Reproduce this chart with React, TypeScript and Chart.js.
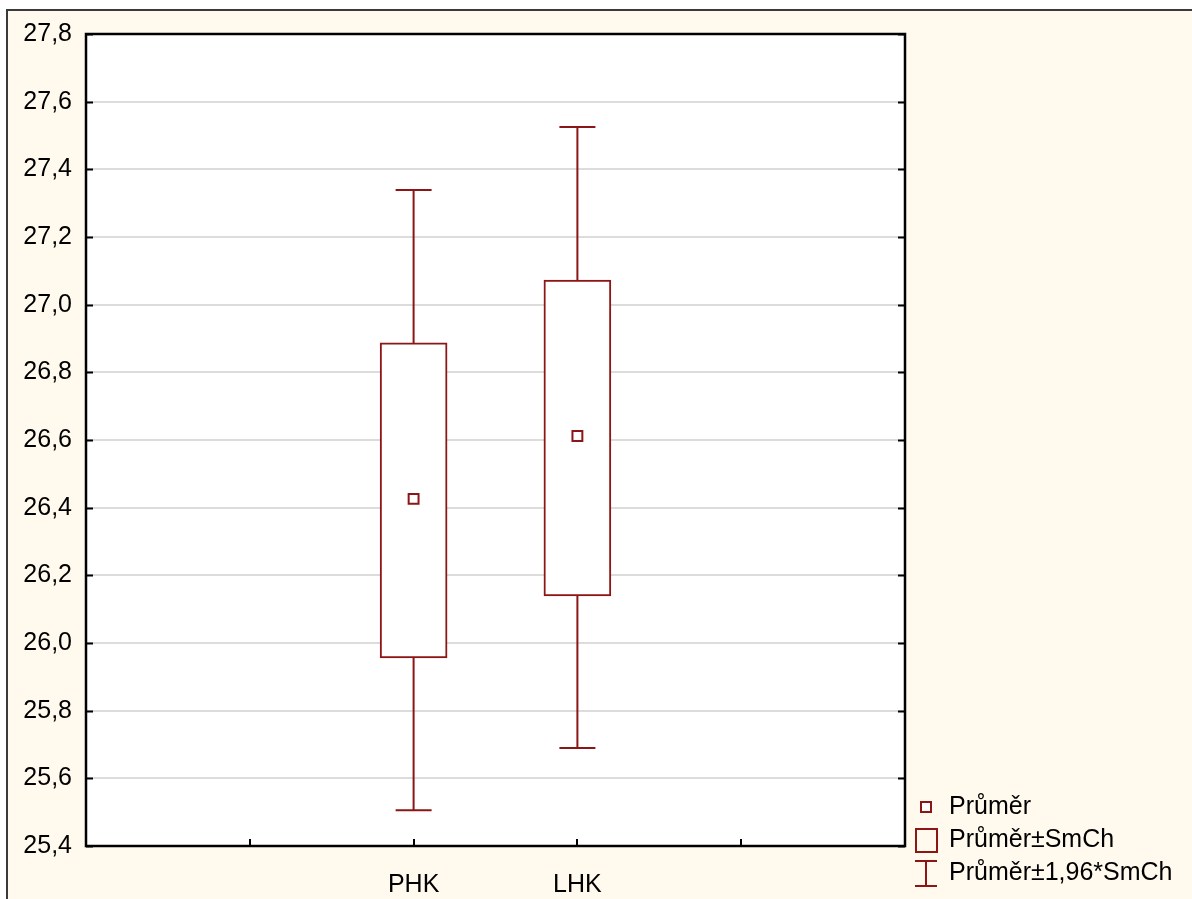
import React, { useEffect, useRef } from 'react';
import { Chart, registerables } from 'chart.js';

Chart.register(...registerables);

const xLabels = ['', '', 'PHK', 'LHK', '', ''];
const categories = ['PHK', 'LHK'];
const means = [26.426, 26.612];
const seLow = [25.956, 26.139];
const seHigh = [26.887, 27.073];
const ciLow = [25.506, 25.69];
const ciHigh = [27.339, 27.525];
const legendLabels = ['Průměr', 'Průměr±SmCh', 'Průměr±1,96*SmCh'];
const yMin = 25.4;
const yMax = 27.8;
const yStep = 0.2;

const RED = '#8c1515';
const BEIGE = '#fff9ee';
const FONT = 'Arial, "Liberation Sans", sans-serif';

const idxOf = (l: string) => categories.indexOf(l);

const decorPlugin = {
  id: 'decor',
  beforeDraw(chart: any) {
    const { ctx, width, height, chartArea: a } = chart;
    ctx.save();
    ctx.fillStyle = '#ffffff';
    ctx.fillRect(0, 0, width, height);
    ctx.fillStyle = BEIGE;
    ctx.fillRect(7, 10, width - 7, height - 10);
    ctx.strokeStyle = '#3a3a3a';
    ctx.lineWidth = 2;
    ctx.beginPath();
    ctx.moveTo(7, height);
    ctx.lineTo(7, 10);
    ctx.lineTo(width, 10);
    ctx.stroke();
    ctx.fillStyle = '#ffffff';
    ctx.fillRect(a.left, a.top, a.right - a.left, a.bottom - a.top);
    ctx.restore();
  },
  beforeDatasetsDraw(chart: any) {
    const { ctx, scales } = chart;
    const xs = scales.x;
    const ys = scales.y;
    ctx.save();
    ctx.strokeStyle = RED;
    ctx.lineWidth = 2;
    xLabels.forEach((l, i) => {
      const k = idxOf(l);
      if (k < 0) return;
      const x = xs.getPixelForValue(i);
      const yT = ys.getPixelForValue(ciHigh[k]);
      const yB = ys.getPixelForValue(ciLow[k]);
      const cap = 18;
      ctx.beginPath();
      ctx.moveTo(x, yT);
      ctx.lineTo(x, yB);
      ctx.moveTo(x - cap, yT);
      ctx.lineTo(x + cap, yT);
      ctx.moveTo(x - cap, yB);
      ctx.lineTo(x + cap, yB);
      ctx.stroke();
    });
    ctx.restore();
  },
  afterDatasetsDraw(chart: any) {
    const { ctx, chartArea: a, scales } = chart;
    const xs = scales.x;
    const ys = scales.y;
    ctx.save();
    ctx.strokeStyle = '#000000';
    ctx.lineWidth = 2;
    ctx.beginPath();
    ys.ticks.forEach((t: any) => {
      const y = Math.round(ys.getPixelForValue(t.value)) + 0.5;
      ctx.moveTo(a.left, y);
      ctx.lineTo(a.left + 7, y);
      ctx.moveTo(a.right, y);
      ctx.lineTo(a.right - 7, y);
    });
    for (let i = 1; i < xLabels.length - 1; i++) {
      const x = Math.round(xs.getPixelForValue(i));
      ctx.moveTo(x, a.bottom);
      ctx.lineTo(x, a.bottom - 7);
    }
    ctx.stroke();
    ctx.lineWidth = 2.5;
    ctx.strokeRect(a.left, a.top, a.right - a.left, a.bottom - a.top);
    ctx.restore();
  },
  afterDraw(chart: any) {
    const { ctx, chartArea: a } = chart;
    ctx.save();
    const sx = a.right + 21;
    const tx = a.right + 44;
    const rows = [807, 840, 873];
    ctx.strokeStyle = RED;
    ctx.fillStyle = '#ffffff';
    ctx.lineWidth = 2;
    ctx.fillRect(sx - 5, rows[0] - 5, 10, 10);
    ctx.strokeRect(sx - 5, rows[0] - 5, 10, 10);
    ctx.strokeRect(sx - 10, rows[1] - 11, 21, 23);
    ctx.beginPath();
    ctx.moveTo(sx - 11, rows[2] - 12);
    ctx.lineTo(sx + 11, rows[2] - 12);
    ctx.moveTo(sx, rows[2] - 12);
    ctx.lineTo(sx, rows[2] + 13);
    ctx.moveTo(sx - 11, rows[2] + 13);
    ctx.lineTo(sx + 11, rows[2] + 13);
    ctx.stroke();
    ctx.fillStyle = '#000000';
    ctx.font = `25px ${FONT}`;
    ctx.textBaseline = 'middle';
    ctx.textAlign = 'left';
    legendLabels.forEach((t, i) => ctx.fillText(t, tx, rows[i]));
    ctx.restore();
  },
};

export default function App() {
  const ref = useRef<HTMLCanvasElement>(null);
  useEffect(() => {
    if (!ref.current) return;
    const chart = new Chart(ref.current, {
      type: 'bar',
      data: {
        labels: xLabels,
        datasets: [
          {
            type: 'line',
            label: legendLabels[0],
            data: xLabels.map((l) => (idxOf(l) >= 0 ? means[idxOf(l)] : null)),
            showLine: false,
            pointStyle: 'rect',
            pointRadius: 7,
            pointBorderWidth: 2,
            pointBackgroundColor: '#ffffff',
            pointBorderColor: RED,
            order: 0,
          } as any,
          {
            type: 'bar',
            label: legendLabels[1],
            data: xLabels.map((l) => (idxOf(l) >= 0 ? [seLow[idxOf(l)], seHigh[idxOf(l)]] : null)) as any,
            backgroundColor: '#ffffff',
            borderColor: RED,
            borderWidth: 2,
            borderSkipped: false,
            barThickness: 67,
            order: 1,
          },
        ],
      },
      options: {
        animation: false,
        responsive: true,
        maintainAspectRatio: false,
        layout: { padding: { left: 0, top: 34, right: 287, bottom: 0 } },
        plugins: { legend: { display: false }, tooltip: { enabled: false } },
        scales: {
          x: {
            type: 'category',
            offset: false,
            grid: { display: false, offset: false },
            border: { display: false },
            ticks: {
              autoSkip: false,
              maxRotation: 0,
              padding: 16,
              color: '#000000',
              font: { family: FONT, size: 25 },
            },
            afterFit: (s: any) => {
              s.height = 53;
            },
          },
          y: {
            type: 'linear',
            min: yMin,
            max: yMax,
            border: { display: false },
            grid: { color: '#dcdcdc', lineWidth: 2, drawTicks: false },
            ticks: {
              stepSize: yStep,
              padding: 14,
              color: '#000000',
              font: { family: FONT, size: 25 },
              callback: (v: any) => Number(v).toFixed(1).replace('.', ','),
            },
            afterFit: (s: any) => {
              s.width = 86;
            },
          },
        },
      },
      plugins: [decorPlugin],
    });
    return () => chart.destroy();
  }, []);
  return (
    <div style={{ position: 'fixed', left: 0, top: 0, width: 1192, height: 899 }}>
      <canvas ref={ref} />
    </div>
  );
}
